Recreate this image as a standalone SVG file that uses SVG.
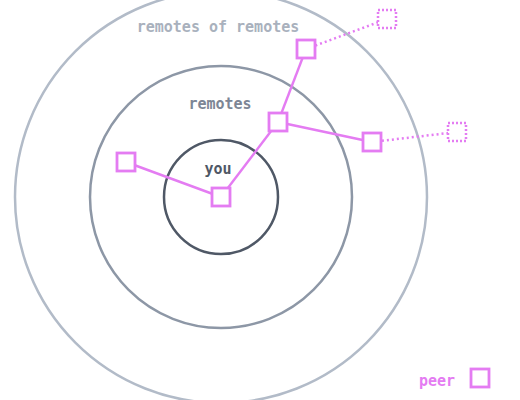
<svg xmlns="http://www.w3.org/2000/svg" width="520" height="400" viewBox="0 0 520 400">
<style>
.ring{fill:none;stroke-width:2.5}
.lbl{font-family:"DejaVu Sans Mono","Liberation Mono",monospace;font-weight:bold;font-size:15px;text-anchor:middle}
.peer{fill:#fff;stroke:#e47cf2;stroke-width:2.8}
.ghost{fill:#fff;stroke:#e47cf2;stroke-width:2.5;stroke-dasharray:2 2}
.link{stroke:#e47cf2;stroke-width:2.4;fill:none}
.dlink{stroke:#e47cf2;stroke-width:2.5;fill:none;stroke-dasharray:2 3}
</style>
<rect width="520" height="400" fill="#fff"/>
<g id="rings">
<circle class="ring" cx="221" cy="197" r="206" stroke="#b2bbc8"/>
<circle class="ring" cx="221" cy="197" r="131" stroke="#8d97a6"/>
<circle class="ring" cx="221" cy="197" r="57" stroke="#4f5866"/>
<text class="lbl" x="218" y="32" fill="#a9b1bd">remotes of remotes</text>
<text class="lbl" x="220" y="109" fill="#7d8695">remotes</text>
<text class="lbl" x="218" y="174" fill="#4f5866">you</text>
</g>
<g id="connectors">
<line class="link" x1="126" y1="162" x2="221" y2="197"/>
<line class="link" x1="221" y1="197" x2="278" y2="122"/>
<line class="link" x1="278" y1="122" x2="306" y2="49"/>
<line class="link" x1="278" y1="122" x2="372" y2="142"/>
<line class="dlink" x1="306" y1="49" x2="387" y2="19"/>
<line class="dlink" x1="372" y1="142" x2="457" y2="132"/>
</g>
<g id="node-you"><rect class="peer" x="212" y="188" width="18" height="18"/></g>
<g id="node-left"><rect class="peer" x="117" y="153" width="18" height="18"/></g>
<g id="node-mid"><rect class="peer" x="269" y="113" width="18" height="18"/></g>
<g id="node-top"><rect class="peer" x="297" y="40" width="18" height="18"/></g>
<g id="node-right"><rect class="peer" x="363" y="133" width="18" height="18"/></g>
<g id="node-ghost-top"><rect class="ghost" x="378" y="10" width="18" height="18"/></g>
<g id="node-ghost-right"><rect class="ghost" x="448" y="123" width="18" height="18"/></g>
<g id="legend">
<text class="lbl" x="437" y="386" fill="#e47cf2">peer</text>
<rect class="peer" x="471" y="369" width="18" height="18"/>
</g>
</svg>
